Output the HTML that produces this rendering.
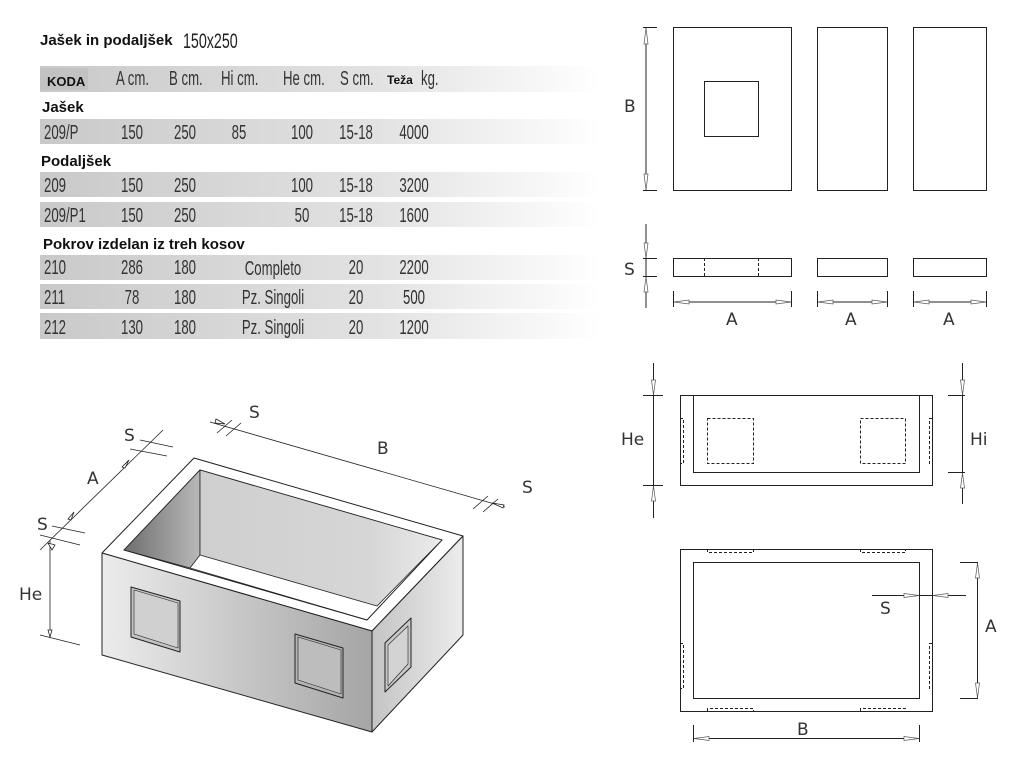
<!DOCTYPE html>
<html><head><meta charset="utf-8"><style>
html,body{margin:0;padding:0;background:#fff;}
svg{display:block;}
.n{font-family:"Liberation Sans",sans-serif;font-size:20px;fill:#333;}
.b{font-family:"Liberation Sans",sans-serif;font-weight:bold;font-size:15px;fill:#111;}
.l{font-family:"DejaVu Sans","Liberation Sans",sans-serif;font-size:17px;fill:#333;}
</style></head><body>
<svg width="1036" height="758" viewBox="0 0 1036 758" xmlns="http://www.w3.org/2000/svg">
<defs>
<linearGradient id="row" x1="0" x2="1" y1="0" y2="0">
<stop offset="0" stop-color="#c9c9c9"/><stop offset="0.6" stop-color="#e2e2e2"/><stop offset="1" stop-color="#ffffff"/></linearGradient>
<linearGradient id="front" x1="0" x2="1"><stop offset="0" stop-color="#ececec"/><stop offset="0.5" stop-color="#c8c8c8"/><stop offset="1" stop-color="#a5a5a5"/></linearGradient>
<linearGradient id="right" x1="0" x2="1"><stop offset="0" stop-color="#c4c4c4"/><stop offset="1" stop-color="#ececec"/></linearGradient>
<linearGradient id="inl" x1="0" x2="1"><stop offset="0" stop-color="#6e6e6e"/><stop offset="1" stop-color="#b8b8b8"/></linearGradient>
<linearGradient id="back" x1="0" x2="1"><stop offset="0" stop-color="#cfcfcf"/><stop offset="0.7" stop-color="#d6d6d6"/><stop offset="1" stop-color="#ebebeb"/></linearGradient>
</defs>

<!-- Title -->
<text x="40" y="45" class="b">Jašek in podaljšek</text>
<text transform="translate(183,48) scale(0.68,1)" class="n" style="fill:#222;font-size:21px">150x250</text>

<!-- header -->
<rect x="40" y="66" width="560" height="26" fill="url(#row)"/>
<rect x="40" y="68" width="48" height="22" fill="#c2c2c2"/>
<text x="47" y="86" class="b" style="font-size:13px">KODA</text>
<g class="n">
<text transform="translate(116,85) scale(0.66,1)">A cm.</text>
<text transform="translate(169,85) scale(0.66,1)">B cm.</text>
<text transform="translate(221,85) scale(0.66,1)">Hi cm.</text>
<text transform="translate(283,85) scale(0.66,1)">He cm.</text>
<text transform="translate(340,85) scale(0.66,1)">S cm.</text>
<text transform="translate(421,85) scale(0.66,1)">kg.</text>
</g>
<text x="387" y="84" class="b" style="font-size:12px">Teža</text>

<text x="42" y="112" class="b">Jašek</text>
<rect x="40" y="119" width="560" height="25" fill="url(#row)"/>
<g class="n" text-anchor="middle">
<text transform="translate(44,139) scale(0.66,1)" text-anchor="start">209/P</text>
<text transform="translate(132,139) scale(0.66,1)">150</text><text transform="translate(185,139) scale(0.66,1)">250</text><text transform="translate(239,139) scale(0.66,1)">85</text><text transform="translate(302,139) scale(0.66,1)">100</text><text transform="translate(356,139) scale(0.66,1)">15-18</text><text transform="translate(414,139) scale(0.66,1)">4000</text>
</g>
<text x="41" y="166" class="b">Podaljšek</text>
<rect x="40" y="172" width="560" height="25" fill="url(#row)"/>
<g class="n" text-anchor="middle">
<text transform="translate(44,192) scale(0.66,1)" text-anchor="start">209</text>
<text transform="translate(132,192) scale(0.66,1)">150</text><text transform="translate(185,192) scale(0.66,1)">250</text><text transform="translate(302,192) scale(0.66,1)">100</text><text transform="translate(356,192) scale(0.66,1)">15-18</text><text transform="translate(414,192) scale(0.66,1)">3200</text>
</g>
<rect x="40" y="202" width="560" height="25" fill="url(#row)"/>
<g class="n" text-anchor="middle">
<text transform="translate(44,222) scale(0.66,1)" text-anchor="start">209/P1</text>
<text transform="translate(132,222) scale(0.66,1)">150</text><text transform="translate(185,222) scale(0.66,1)">250</text><text transform="translate(302,222) scale(0.66,1)">50</text><text transform="translate(356,222) scale(0.66,1)">15-18</text><text transform="translate(414,222) scale(0.66,1)">1600</text>
</g>
<text x="43" y="249" class="b">Pokrov izdelan iz treh kosov</text>
<rect x="40" y="255" width="560" height="25" fill="url(#row)"/>
<g class="n" text-anchor="middle">
<text transform="translate(44,274) scale(0.66,1)" text-anchor="start">210</text>
<text transform="translate(132,274) scale(0.66,1)">286</text><text transform="translate(185,274) scale(0.66,1)">180</text><text transform="translate(273,275) scale(0.66,1)">Completo</text><text transform="translate(356,274) scale(0.66,1)">20</text><text transform="translate(414,274) scale(0.66,1)">2200</text>
</g>
<rect x="40" y="284" width="560" height="25" fill="url(#row)"/>
<g class="n" text-anchor="middle">
<text transform="translate(44,304) scale(0.66,1)" text-anchor="start">211</text>
<text transform="translate(132,304) scale(0.66,1)">78</text><text transform="translate(185,304) scale(0.66,1)">180</text><text transform="translate(273,304) scale(0.66,1)">Pz. Singoli</text><text transform="translate(356,304) scale(0.66,1)">20</text><text transform="translate(414,304) scale(0.66,1)">500</text>
</g>
<rect x="40" y="313" width="560" height="26" fill="url(#row)"/>
<g class="n" text-anchor="middle">
<text transform="translate(44,334) scale(0.66,1)" text-anchor="start">212</text>
<text transform="translate(132,334) scale(0.66,1)">130</text><text transform="translate(185,334) scale(0.66,1)">180</text><text transform="translate(273,334) scale(0.66,1)">Pz. Singoli</text><text transform="translate(356,334) scale(0.66,1)">20</text><text transform="translate(414,334) scale(0.66,1)">1200</text>
</g>

<!-- 3D box -->
<g stroke="#222" stroke-width="1" stroke-linejoin="round">
<polygon points="102,553 194,458 463,536 372,631" fill="#fff"/>
<polygon points="102,553 372,631 372,732 102,655" fill="url(#front)"/>
<polygon points="372,631 463,536 463,635 372,732" fill="url(#right)"/>
<polygon points="124,550 200,470 442,540 367,620" fill="#fff"/>
<polygon points="124,550 200,470 200,555 190,568" fill="url(#inl)" stroke-width="0.8"/>
<polygon points="200,470 442,540 377,606 200,555" fill="url(#back)" stroke-width="0.8"/>
<line x1="190" y1="568" x2="367" y2="620" stroke-width="0.8"/>
<polygon points="131,587 180,601 180,652 131,637" fill="#c4c4c4"/>
<polygon points="134,590 178,603 178,648 134,634" fill="#d0d0d0" stroke-width="0.6"/>
<polygon points="295,634 343,648 343,698 295,683" fill="#b4b4b4"/>
<polygon points="298,637 341,650 341,694 298,680" fill="#bdbdbd" stroke-width="0.6"/>
<polygon points="385,643 411,618 411,667 385,692" fill="#c8c8c8"/>
<polygon points="388,645 408,626 408,664 388,686" fill="#d3d3d3" stroke-width="0.6"/>
</g>
<g stroke="#222" stroke-width="0.8" fill="#fff">
<line x1="40" y1="550" x2="163" y2="430"/>
<line x1="52" y1="526" x2="85" y2="533"/><line x1="40" y1="535" x2="80" y2="545"/>
<line x1="140" y1="440" x2="173" y2="447"/><line x1="130" y1="449" x2="167" y2="456"/>
<line x1="50" y1="540" x2="50" y2="637"/><line x1="40" y1="635" x2="80" y2="645"/>
<line x1="210" y1="422" x2="505" y2="507"/>
<line x1="217" y1="433" x2="232" y2="420"/><line x1="226" y1="436" x2="241" y2="423"/>
<line x1="473" y1="509" x2="488" y2="496"/><line x1="483" y1="512" x2="498" y2="499"/>
<polygon points="68,519 74,512 71,520"/><polygon points="122,467 129,460 125,468"/>
<polygon points="48,543 55,545 52,550"/><polygon points="48,630 52,630 50,637"/>
<polygon points="225,424 215,423 216,419"/><polygon points="492,503 504,505 503,508"/>
</g>
<g class="l">
<text x="37" y="530">S</text><text x="124" y="441">S</text><text x="87" y="484">A</text>
<text x="249" y="418">S</text><text x="377" y="454">B</text><text x="522" y="493">S</text>
<text x="19" y="600">He</text>
</g>

<g stroke="#222" stroke-width="1" fill="none">
<rect x="673.5" y="27.5" width="118" height="163"/>
<rect x="704.5" y="81.5" width="54" height="55"/>
<rect x="817.5" y="27.5" width="70" height="163"/>
<rect x="913.5" y="27.5" width="73" height="163"/>
<line x1="646" y1="27" x2="646" y2="190"/>
<line x1="643" y1="27.5" x2="657" y2="27.5"/><line x1="643" y1="190.5" x2="657" y2="190.5"/>
<rect x="673.5" y="258.5" width="118" height="18"/>
<line x1="704.5" y1="258" x2="704.5" y2="276" stroke-dasharray="3,2"/>
<line x1="758.5" y1="258" x2="758.5" y2="276" stroke-dasharray="3,2"/>
<rect x="817.5" y="258.5" width="70" height="18"/>
<rect x="913.5" y="258.5" width="73" height="18"/>
<line x1="646" y1="224" x2="646" y2="308"/>
<line x1="643" y1="258.5" x2="657" y2="258.5"/><line x1="643" y1="276.5" x2="657" y2="276.5"/>
<line x1="673" y1="302" x2="791" y2="302"/><line x1="673.5" y1="291" x2="673.5" y2="307"/><line x1="791.5" y1="291" x2="791.5" y2="307"/>
<line x1="817" y1="302" x2="887" y2="302"/><line x1="817.5" y1="291" x2="817.5" y2="307"/><line x1="887.5" y1="291" x2="887.5" y2="307"/>
<line x1="913" y1="302" x2="986" y2="302"/><line x1="913.5" y1="291" x2="913.5" y2="307"/><line x1="986.5" y1="291" x2="986.5" y2="307"/>
</g>
<g stroke="#555" stroke-width="0.7" fill="#fff">
<polygon points="646,28 644,44 648,44"/><polygon points="646,190 644,174 648,174"/>
<polygon points="646,258 644,243 648,243"/><polygon points="646,277 644,292 648,292"/>
<polygon points="674,302 689,300 689,304"/><polygon points="791,302 776,300 776,304"/>
<polygon points="818,302 833,300 833,304"/><polygon points="887,302 872,300 872,304"/>
<polygon points="914,302 929,300 929,304"/><polygon points="986,302 971,300 971,304"/>
</g>
<g class="l">
<text x="624" y="112">B</text><text x="624" y="275">S</text>
<text x="726" y="325">A</text><text x="845" y="325">A</text><text x="943" y="325">A</text>
</g>

<g stroke="#222" stroke-width="1" fill="none">
<rect x="680.5" y="395.5" width="252" height="90"/>
<polyline points="693.5,395 693.5,472.5 919.5,472.5 919.5,395"/>
<rect x="707.5" y="418.5" width="46" height="45" stroke-dasharray="3,2"/>
<rect x="860.5" y="418.5" width="45" height="45" stroke-dasharray="3,2"/>
<polyline points="680,418.5 683.5,418.5 683.5,463.5 680,463.5" stroke-dasharray="3,2"/>
<polyline points="932,418.5 929.5,418.5 929.5,463.5 932,463.5" stroke-dasharray="3,2"/>
<line x1="653.5" y1="363" x2="653.5" y2="518"/>
<line x1="643" y1="395.5" x2="663" y2="395.5"/><line x1="643" y1="485.5" x2="663" y2="485.5"/>
<line x1="962.5" y1="363" x2="962.5" y2="504"/>
<line x1="948" y1="395.5" x2="965" y2="395.5"/><line x1="948" y1="472.5" x2="965" y2="472.5"/>
<rect x="680.5" y="549.5" width="252" height="162"/>
<rect x="693.5" y="562.5" width="226" height="136"/>
<polyline points="707.5,549 707.5,552.5 753.5,552.5 753.5,549" stroke-dasharray="3,2"/>
<polyline points="860.5,549 860.5,552.5 905.5,552.5 905.5,549" stroke-dasharray="3,2"/>
<polyline points="707.5,711 707.5,708.5 753.5,708.5 753.5,711" stroke-dasharray="3,2"/>
<polyline points="860.5,711 860.5,708.5 905.5,708.5 905.5,711" stroke-dasharray="3,2"/>
<polyline points="680,643.5 683.5,643.5 683.5,688.5 680,688.5" stroke-dasharray="3,2"/>
<polyline points="932,643.5 929.5,643.5 929.5,688.5 932,688.5" stroke-dasharray="3,2"/>
<line x1="977.5" y1="562" x2="977.5" y2="698"/>
<line x1="960" y1="562.5" x2="978" y2="562.5"/><line x1="960" y1="698.5" x2="978" y2="698.5"/>
<line x1="872" y1="595.5" x2="966" y2="595.5"/>
<line x1="693" y1="738.5" x2="919" y2="738.5"/>
<line x1="693.5" y1="725" x2="693.5" y2="742"/><line x1="919.5" y1="725" x2="919.5" y2="742"/>
</g>
<g stroke="#555" stroke-width="0.7" fill="#fff">
<polygon points="653.5,395 651.5,380 655.5,380"/><polygon points="653.5,486 651.5,501 655.5,501"/>
<polygon points="962.5,395 960.5,380 964.5,380"/><polygon points="962.5,473 960.5,488 964.5,488"/>
<polygon points="977.5,563 975.5,578 979.5,578"/><polygon points="977.5,698 975.5,683 979.5,683"/>
<polygon points="919,595.5 904,593.5 904,597.5"/><polygon points="933,595.5 948,593.5 948,597.5"/>
<polygon points="694,738.5 709,736.5 709,740.5"/><polygon points="919,738.5 904,736.5 904,740.5"/>
</g>
<g class="l">
<text x="621" y="445">He</text><text x="970" y="445">Hi</text>
<text x="880" y="614">S</text><text x="985" y="632">A</text><text x="797" y="735">B</text>
</g>
</svg>
</body></html>
